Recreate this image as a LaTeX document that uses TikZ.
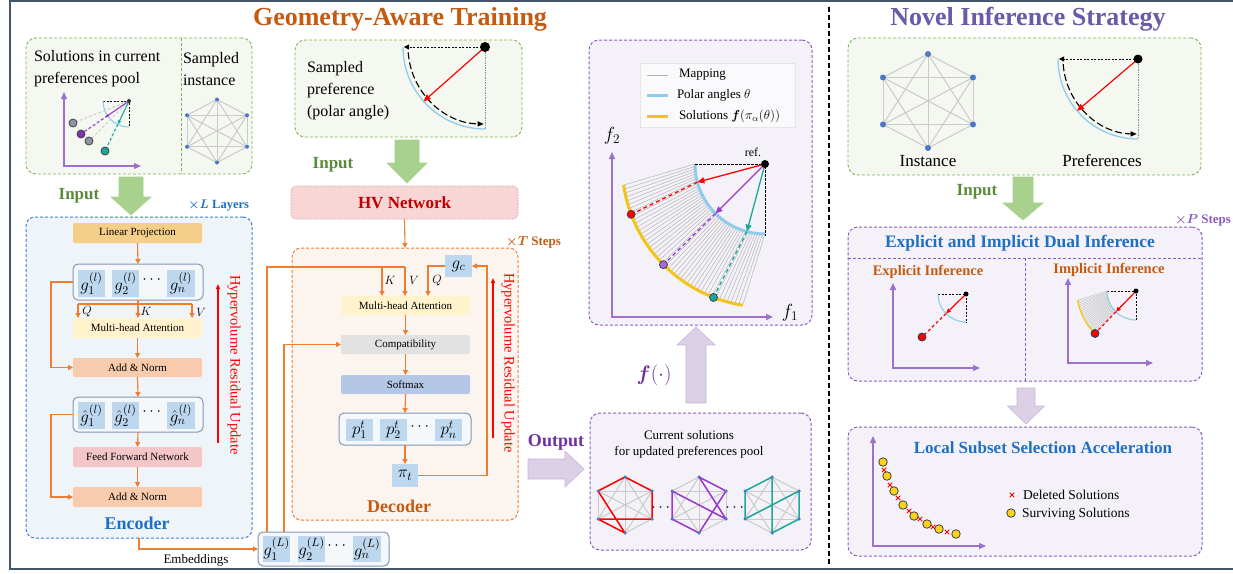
\RequirePackage{fix-cm}
\documentclass[tikz,border=0pt]{standalone}
\usepackage{amsmath,bm}
\usepackage{fontspec}
\setmainfont{Liberation Serif}
\usetikzlibrary{arrows.meta,calc,shapes.misc}

\definecolor{ttlO}{HTML}{C55A11}
\definecolor{ttlP}{HTML}{6A5AA8}
\definecolor{grnB}{HTML}{7FB552}
\definecolor{grnT}{HTML}{5B8A3A}
\definecolor{grnA}{HTML}{A9D18E}
\definecolor{grnF}{HTML}{F5F8F1}
\definecolor{bluT}{HTML}{1F6FC5}
\definecolor{encB}{HTML}{3B82D6}
\definecolor{encF}{HTML}{EFF4F9}
\definecolor{orgL}{HTML}{ED7D31}
\definecolor{decF}{HTML}{FCF4EE}
\definecolor{cellC}{HTML}{BDD7EE}
\definecolor{rowB}{HTML}{8497B0}
\definecolor{lpC}{HTML}{F4CF8A}
\definecolor{mhaC}{HTML}{FFF2CC}
\definecolor{anC}{HTML}{F8CBAD}
\definecolor{ffnC}{HTML}{F4C6C8}
\definecolor{cmpC}{HTML}{E2E2E2}
\definecolor{smxC}{HTML}{B4C7E7}
\definecolor{hvF}{HTML}{F8D6D6}
\definecolor{hvB}{HTML}{D99A9A}
\definecolor{hvT}{HTML}{C00000}
\definecolor{purB}{HTML}{8C5CC0}
\definecolor{purF}{HTML}{F4F2F8}
\definecolor{purA}{HTML}{DCD0E6}
\definecolor{purAB}{HTML}{C8B6DA}
\definecolor{purT}{HTML}{7030A0}
\definecolor{axC}{HTML}{9C70CC}
\definecolor{arcC}{HTML}{8FCBEA}
\definecolor{yelC}{HTML}{F2C618}
\definecolor{tealC}{HTML}{1BA89C}
\definecolor{vioC}{HTML}{9A38D0}
\definecolor{vioF}{HTML}{A86BD8}
\definecolor{nodC}{HTML}{4A78C8}
\definecolor{edgC}{HTML}{CACACA}
\definecolor{frmC}{HTML}{44546A}
\definecolor{grayD}{HTML}{8A8F9C}
\definecolor{dotG}{HTML}{8E95A5}
\definecolor{solY}{HTML}{FFD21A}

\newcommand\fsz[2]{\fontsize{#1}{#2}\selectfont}
\newcommand\mkbox[7]{\node[#6, minimum width={(#4)-(#2)}, minimum height={(#5)-(#3)}] (#1) at ({((#2)+(#4))/2},{((#3)+(#5))/2}) {#7};}
\newcommand\vblk[8]{\filldraw[fill=#7, draw=#8, line width=0.6pt] ({#1-#5/2},#2) -- ({#1-#5/2},#4) -- ({#1-#6/2},#4) -- (#1,#3) -- ({#1+#6/2},#4) -- ({#1+#5/2},#4) -- ({#1+#5/2},#2) -- cycle;}
\newcommand\hblk[8]{\filldraw[fill=#7, draw=#8, line width=0.6pt] (#2,{#1-#5/2}) -- (#4,{#1-#5/2}) -- (#4,{#1-#6/2}) -- (#3,#1) -- (#4,{#1+#6/2}) -- (#4,{#1+#5/2}) -- (#2,{#1+#5/2}) -- cycle;}
\newcommand\kgraph[5]{%
 \coordinate (#1-1) at (#2,{#3-#5});
 \coordinate (#1-2) at ({#2+#4},{#3-#5/2});
 \coordinate (#1-3) at ({#2+#4},{#3+#5/2});
 \coordinate (#1-4) at (#2,{#3+#5});
 \coordinate (#1-5) at ({#2-#4},{#3+#5/2});
 \coordinate (#1-6) at ({#2-#4},{#3-#5/2});
 \foreach \i/\j in {1/2,1/3,1/4,1/5,1/6,2/3,2/4,2/5,2/6,3/4,3/5,3/6,4/5,4/6,5/6}{\draw[kedge] (#1-\i) -- (#1-\j);}}
\newcommand\kdots[2]{\foreach \i in {1,...,6}{\node[kdot, minimum size=#2] (#1-d\i) at (#1-\i) {};}}
% prefix, x, y, r, inner r, red angle, dot size
\newcommand\prefdiag[7]{%
 \coordinate (#1R) at (#2,#3);
 \coordinate (#1L) at ({#2-#4},#3);
 \coordinate (#1D) at (#2,{#3+#4});
 \draw[arcC, line width=1.3pt] (#1L) arc[start angle=180,end angle=90,radius=#4];
 \draw[grayD, dash pattern=on 1.5pt off 1pt, line width=0.9pt] (#1R) -- (#1D);
 \draw[black, dash pattern=on 2pt off 1.5pt, line width=0.8pt, -{Triangle[length=5pt,width=5pt]}] (#1R) -- ([xshift=1pt]#1L);
 \draw[black, dash pattern=on 7pt off 3pt, line width=1.1pt, -{Triangle[length=6pt,width=5pt]}] ($(#1R)+({#5*cos(176)},{#5*sin(176)})$) arc[start angle=176,end angle=91,radius=#5];
 \coordinate (#1A) at ($(#1R)+({#4*cos(#6)},{#4*sin(#6)})$);
 \draw[red, line width=1.2pt, -{Triangle[length=7pt,width=6pt]}] (#1R) -- (#1A);
 \node[refdot, minimum size=#7] (#1dot) at (#1R) {};}

\begin{document}
\begin{tikzpicture}[x=1pt,y=-1pt,
  every node/.style={inner sep=0pt, outer sep=0pt},
  oline/.style={draw=orgL, line width=1.1pt},
  oarr/.style={oline, -{Triangle[length=5pt,width=5pt]}},
  blk/.style={rounded corners=2pt, font=\fsz{11}{13}},
  cellbox/.style={fill=cellC, font=\fsz{17}{19}},
  rowst/.style={draw=rowB, line width=1pt, rounded corners=5pt, fill=white!40!encF},
  gbox/.style={draw=grnB, fill=grnF, line width=0.9pt, dash pattern=on 3pt off 2pt, rounded corners=10pt},
  pbox/.style={draw=purB, fill=purF, line width=1pt, dash pattern=on 3pt off 2pt, rounded corners=10pt},
  encst/.style={draw=encB, fill=encF, line width=1pt, dash pattern=on 3pt off 2pt, rounded corners=9pt},
  decst/.style={draw=orgL, fill=decF, line width=1pt, dash pattern=on 3pt off 2pt, rounded corners=9pt},
  hvst/.style={draw=hvB, fill=hvF, line width=0.8pt, dash pattern=on 1.5pt off 1.5pt, rounded corners=5pt, text=hvT, font=\fsz{17}{20}\bfseries},
  axline/.style={draw=axC, line width=1.3pt, {Triangle[length=7pt,width=6pt]}-{Triangle[length=7pt,width=6pt]}},
  kedge/.style={draw=edgC, line width=1pt},
  kdot/.style={circle, fill=nodC, minimum size=4pt},
  refdot/.style={circle, fill=black, minimum size=6pt},
  soldot/.style={circle, draw=black!75, line width=0.8pt, minimum size=8pt},
  mapl/.style={draw=gray!55, line width=0.55pt},
  txt/.style={font=\fsz{16}{22}, align=left},
  inp/.style={font=\fsz{17}{20}\bfseries, text=grnT},
  rlbl/.style={rotate=-90, text=red, font=\fsz{14.5}{17}},
  redup/.style={draw=red, line width=1.3pt, -{Triangle[length=5pt,width=4pt]}},
  xmark/.style={cross out, draw=red, line width=0.8pt, minimum size=4.5pt},
  dotsn/.style={font=\fsz{16}{18}},
  qkv/.style={font=\fsz{12}{14}},
]
\useasboundingbox (0,0) rectangle (1233,573);
\fill[white] (0,0) rectangle (1233,573);
\draw[frmC, line width=1.6pt] (1240,1) -- (10,1) -- (10,569) -- (1240,569);
\draw[black, line width=1.4pt, dash pattern=on 5pt off 3pt] (829,7) -- (829,566);

% titles
\node[font=\fsz{26}{30}\bfseries, text=ttlO] (t1) at (400,19) {Geometry-Aware Training};
\node[font=\fsz{26}{30}\bfseries, text=ttlP] (t2) at (1028,19) {Novel Inference Strategy};

% ===== top-left box
\mkbox{solbox}{26}{38}{252}{174}{gbox}{}
\draw[grnB, line width=0.9pt, dash pattern=on 3pt off 2pt] (181,38) -- (181,174);
\node[txt, anchor=west] (soltxt) at (34,69) {Solutions in current\\preferences pool};
\node[txt, anchor=west] (samtxt) at (183,69) {Sampled\\instance};
\draw[axline] (64,92) -- (64,166) -- (141,166);
\coordinate (M0) at (129,101);
\draw[black, dash pattern=on 2pt off 1.5pt, line width=0.7pt] (103,101) -- (M0) -- (129,126);
\draw[arcC, line width=1.1pt] (103,101) arc[start angle=180,end angle=90,radius=26];
\coordinate (Mg1) at (73,123); \coordinate (Mv) at (81,134); \coordinate (Mg2) at (89,141); \coordinate (Mt) at (105,151);
\coordinate (MvA) at (107.6,115.7); \coordinate (MtA) at (117.8,124.4);
\draw[gray!40, line width=1pt, dash pattern=on 3pt off 2pt] (M0) -- (Mg1);
\draw[gray!40, line width=1pt, dash pattern=on 3pt off 2pt] (M0) -- (Mg2);
\draw[vioC, line width=1.1pt] (M0) -- (MvA);
\draw[vioC, line width=1.1pt, dash pattern=on 3pt off 2pt] (MvA) -- (Mv);
\node[circle, fill=vioC, minimum size=3pt] (MvAd) at (MvA) {};
\draw[tealC, line width=1.1pt, -{Triangle[length=4pt,width=3.5pt]}] (M0) -- (MtA);
\draw[tealC, line width=1.1pt, dash pattern=on 3pt off 2pt] (MtA) -- (Mt);
\node[soldot, fill=dotG] (Mg1d) at (Mg1) {};
\node[soldot, fill=vioC!85!black] (Mvd) at (Mv) {};
\node[soldot, fill=dotG] (Mg2d) at (Mg2) {};
\node[soldot, fill=tealC] (Mtd) at (Mt) {};
\node[circle, fill=black!80, minimum size=4pt] (M0d) at (M0) {};
\kgraph{sa}{217}{131}{30}{31.5}
\kdots{sa}{4pt}

% ===== encoder
\node[inp] (inp1) at (79,196) {Input};
\vblk{131}{177}{215}{197}{24}{40}{grnA}{grnA}
\node[anchor=east, font=\fsz{12.5}{14}\bfseries, text=bluT] (llay) at (249,206) {$\bm{\times L}$ Layers};
\mkbox{enc}{26}{217}{252}{538}{encst}{}
\mkbox{lp}{73}{223}{202}{243}{blk,fill=lpC}{Linear Projection}
\mkbox{grow}{73}{264}{203}{300}{rowst}{}
\mkbox{g1}{78}{270}{105}{297}{cellbox}{$g_1^{(l)}$}
\mkbox{g2}{112}{270}{139}{297}{cellbox}{$g_2^{(l)}$}
\mkbox{gn}{167}{270}{195}{297}{cellbox}{$g_n^{(l)}$}
\node[dotsn] (gdots) at (153,280) {$\cdots$};
\mkbox{mha}{73}{318}{202}{338}{blk,fill=mhaC}{Multi-head Attention}
\mkbox{an1}{73}{358}{202}{377}{blk,fill=anC}{Add \& Norm}
\mkbox{hrow}{73}{397}{203}{432}{rowst}{}
\mkbox{h1}{78}{402}{105}{429}{cellbox}{$\hat g_1^{(l)}$}
\mkbox{h2}{112}{402}{139}{429}{cellbox}{$\hat g_2^{(l)}$}
\mkbox{hn}{167}{402}{195}{429}{cellbox}{$\hat g_n^{(l)}$}
\node[dotsn] (hdots) at (153,412) {$\cdots$};
\mkbox{ffn}{73}{447}{202}{467}{blk,fill=ffnC}{Feed Forward Network}
\mkbox{an2}{73}{487}{202}{507}{blk,fill=anC}{Add \& Norm}
\draw[oarr] (lp.south) -- (grow.north);
\coordinate (qL) at (78,304); \coordinate (qR) at (192,304);
\draw[oline] (grow.south) -- (grow.south |- qL);
\draw[oline] (qL) -- (qR);
\draw[oarr] (qL) -- (qL |- mha.north);
\draw[oarr] (grow.south |- qL) -- (grow.south |- mha.north);
\draw[oarr] (qR) -- (qR |- mha.north);
\node[qkv] (lq) at (87,312) {$Q$};
\node[qkv] (lk) at (146,311) {$K$};
\node[qkv] (lv) at (201,312) {$V$};
\draw[oarr] (mha.south) -- (an1.north);
\draw[oarr] (an1.south) -- (hrow.north);
\draw[oarr] (hrow.south) -- (ffn.north);
\draw[oarr] (ffn.south) -- (an2.north);
\draw[oarr] (grow.west) -- ++(-22,0) |- (an1.west);
\draw[oarr] (hrow.west) -- ++(-22,0) |- (an2.west);
\coordinate (er1) at (218,443); \coordinate (er2) at (218,284);
\draw[redup] (er1) -- (er2);
\node[rlbl] (ehv) at (234,365) {Hypervolume Residual Update};
\node[font=\fsz{18}{20}\bfseries, text=bluT] (enclbl) at (137,523) {Encoder};

% embeddings
\mkbox{gL}{258}{532}{389}{566}{rowst}{}
\mkbox{gL1}{263}{536}{290}{562}{cellbox}{$g_1^{(L)}$}
\mkbox{gL2}{298}{536}{325}{562}{cellbox}{$g_2^{(L)}$}
\mkbox{gLn}{353}{536}{381}{562}{cellbox}{$g_n^{(L)}$}
\node[dotsn] (gLdots) at (338,546) {$\cdots$};
\draw[oarr] (enc.south) |- (gL.west);
\node[font=\fsz{13}{15}] (emb) at (196,560) {Embeddings};

% ===== middle column
\mkbox{spbox}{295}{40}{522}{137}{gbox}{}
\node[txt, anchor=west] (sptxt) at (307,91) {Sampled\\preference\\(polar angle)};
\prefdiag{sp}{485}{47}{82}{77}{138.5}{10pt}
\node[inp] (inp2) at (333,165) {Input};
\vblk{407}{140}{183}{163}{24}{40}{grnA}{grnA}
\mkbox{hv}{291}{186}{518}{219}{hvst}{HV Network}
\node[anchor=east, font=\fsz{13}{15}\bfseries, text=ttlO] (tsteps) at (561,242) {$\bm{\times T}$ Steps};
\mkbox{dec}{292}{248}{518}{520}{decst}{}
\draw[oarr] (hv.south) -- (dec.north);
\mkbox{gc}{445}{255}{472}{277}{cellbox}{$g_c$}
\mkbox{dmha}{341}{296}{470}{315}{blk,fill=mhaC}{Multi-head Attention}
\mkbox{cmp}{341}{335}{470}{354}{blk,fill=cmpC}{Compatibility}
\mkbox{smx}{341}{375}{470}{394}{blk,fill=smxC}{Softmax}
\mkbox{prow}{339}{413}{471}{445}{rowst}{}
\mkbox{p1}{346}{419}{373}{441}{cellbox}{$p_1^t$}
\mkbox{p2}{380}{419}{407}{441}{cellbox}{$p_2^t$}
\mkbox{pn}{435}{419}{462}{441}{cellbox}{$p_n^t$}
\node[dotsn] (pdots) at (421,427) {$\cdots$};
\mkbox{pit}{392}{464}{418}{487}{cellbox}{$\pi_t$}
\draw[oarr] (dmha.south) -- (cmp.north);
\draw[oarr] (cmp.south) -- (smx.north);
\draw[oarr] (smx.south) -- (prow.north);
\draw[oarr] (prow.south) -- (pit.north);
\coordinate (kvL) at (267,267); \coordinate (kT) at (382,267); \coordinate (vT) at (405,267);
\coordinate (qT) at (428,267); \coordinate (cL) at (284,0); \coordinate (lpR) at (487,0);
\draw[oline] (gL.north -| kvL) -- (kvL) -- (vT);
\draw[oarr] (kT) -- (kT |- dmha.north);
\draw[oarr] (vT) -- (vT |- dmha.north);
\draw[oarr] (gc.west) -| (qT |- dmha.north);
\draw[oarr] (gL.north -| cL) |- (cmp.west);
\draw[oarr] (pit.east) -| (lpR |- gc.east) -- (gc.east);
\node[qkv] (dk) at (390,280) {$K$};
\node[qkv] (dv) at (414,280) {$V$};
\node[qkv] (dq) at (437,281) {$Q$};
\coordinate (dr1) at (493,438); \coordinate (dr2) at (493,278);
\draw[redup] (dr1) -- (dr2);
\node[rlbl] (dhv) at (508,363) {Hypervolume Residual Update};
\node[font=\fsz{18}{20}\bfseries, text=ttlO] (declbl) at (399,506) {Decoder};

% output arrow
\node[font=\fsz{18}{20}\bfseries, text=purT] (outlbl) at (556,442) {Output};
\hblk{469}{528}{584}{565}{20}{36}{purA}{purAB}

% ===== pareto box
\mkbox{par}{589}{40}{812}{325}{pbox}{}
\mkbox{leg}{640}{63}{795}{127}{draw=gray!20, fill=white!55!purF, line width=0.6pt}{}
\draw[gray!60, line width=1pt] (647,75) -- (668,75);
\draw[arcC, line width=3pt] (647,95) -- (668,95);
\draw[yelC, line width=3pt] (647,116) -- (668,116);
\node[anchor=west, font=\fsz{13}{15}] (lg1) at (679,75) {Mapping};
\node[anchor=west, font=\fsz{13}{15}] (lg2) at (677,95) {Polar angles $\theta$};
\node[anchor=west, font=\fsz{13}{15}] (lg3) at (679,116) {Solutions $\bm{f}(\pi_\alpha(\theta))$};
\draw[axline] (612,152) -- (612,317) -- (773,317);
\node[font=\fsz{19}{21}] (f2) at (612,136) {$f_2$};
\node[font=\fsz{19}{21}] (f1) at (790,313) {$f_1$};
\coordinate (PR) at (765,164);
\foreach \k in {0,...,45} {
  \pgfmathsetmacro\bb{180-2*\k}
  \pgfmathsetmacro\yy{171.5-(180-\bb)*0.8056}
  \draw[mapl] ($(PR)+({70*cos(\bb)},{70*sin(\bb)})$) -- ($(PR)+({143*cos(\yy)},{143*sin(\yy)})$);
}
\draw[arcC, line width=3pt] ($(PR)+(-70,0)$) arc[start angle=180, end angle=90, radius=70];
\draw[yelC, line width=3pt] ($(PR)+({143*cos(171.5)},{143*sin(171.5)})$) arc[start angle=171.5, end angle=99, radius=143];
\draw[black, dash pattern=on 2.5pt off 1.5pt, line width=0.9pt] ($(PR)+(-70,0)$) -- (PR) -- ($(PR)+(0,72)$);
\foreach \nm/\cl/\ba/\ya in {Pr/red/165/159.4, Pv/vioC/135/135.25, Pt/tealC/105/111.1} {
  \coordinate (\nm A) at ($(PR)+({70*cos(\ba)},{70*sin(\ba)})$);
  \coordinate (\nm D) at ($(PR)+({143*cos(\ya)},{143*sin(\ya)})$);
  \draw[\cl, line width=1.3pt, -{Triangle[length=7pt,width=6pt]}] (PR) -- (\nm A);
  \draw[\cl, line width=1.3pt, dash pattern=on 4pt off 3pt] (\nm A) -- (\nm D);
}
\node[soldot, fill=red] (Prd) at (PrD) {};
\node[soldot, fill=vioF] (Pvd) at (PvD) {};
\node[soldot, fill=tealC] (Ptd) at (PtD) {};
\node[refdot, minimum size=8pt] (PRd) at (PR) {};
\node[font=\fsz{12}{14}] (reflbl) at (753,152) {ref.};

% f(.) arrow
\vblk{696}{403}{327}{345}{20}{38}{purA}{purAB}
\node[font=\fsz{21}{23}, text=purT] (flbl) at (654,375) {$\bm{f}(\cdot)$};

% current solutions
\mkbox{cs}{590}{413}{811}{550}{pbox}{}
\node[font=\fsz{13}{16}, align=center] (cstxt) at (689,444) {Current solutions\\for updated preferences pool};
\kgraph{s1}{625}{505}{27}{28}
\kgraph{s2}{699}{505}{27}{28}
\kgraph{s3}{772}{505}{27}{28}
\draw[red, line width=1.5pt, line join=round] (s1-6) -- (s1-1) -- (s1-2) -- (s1-3) -- (s1-5) -- (s1-4) -- cycle;
\draw[vioC, line width=1.5pt, line join=round] (s2-6) -- (s2-5) -- (s2-4) -- (s2-2) -- (s2-1) -- (s2-3) -- cycle;
\draw[tealC, line width=1.5pt, line join=round] (s3-6) -- (s3-1) -- (s3-4) -- (s3-3) -- (s3-2) -- (s3-5) -- cycle;
\kdots{s1}{3.5pt}\kdots{s2}{3.5pt}\kdots{s3}{3.5pt}
\node[font=\fsz{16}{18}\bfseries] (cd1) at (662,508) {$\cdots$};
\node[font=\fsz{16}{18}\bfseries] (cd2) at (736,508) {$\cdots$};

% ===== right panel
\mkbox{nb}{848}{38}{1201}{175}{gbox}{}
\kgraph{ins}{928}{101}{45}{47}
\kdots{ins}{6pt}
\node[font=\fsz{17}{19}] (instlbl) at (928,161) {Instance};
\node[font=\fsz{17}{19}] (preflbl) at (1102,161) {Preferences};
\prefdiag{np}{1138}{59}{80}{75}{139.6}{9pt}
\node[inp] (inp3) at (977,192) {Input};
\vblk{1023}{177}{220}{203}{20}{40}{grnA}{grnA}
\node[anchor=east, font=\fsz{13}{15}\bfseries, text=purB] (psteps) at (1231,220) {$\bm{\times P}$ Steps};

\mkbox{dual}{848}{227}{1202}{381}{pbox}{}
\draw[purB, line width=1pt, dash pattern=on 3pt off 2pt] (848,258) -- (1202,258);
\draw[purB, line width=1pt, dash pattern=on 3pt off 2pt] (1025,258) -- (1025,381);
\node[font=\fsz{17.5}{20}\bfseries, text=bluT] (dualt) at (1020,243) {Explicit and Implicit Dual Inference};
\node[font=\fsz{14.5}{17}\bfseries, text=ttlO] (expt) at (928,272) {Explicit Inference};
\node[font=\fsz{14.5}{17}\bfseries, text=ttlO] (impt) at (1109,270) {Implicit Inference};
% explicit
\draw[axline] (893,283) -- (893,368) -- (980,368);
\coordinate (ER) at (966,294);
\draw[black, dash pattern=on 2pt off 1.5pt, line width=0.8pt] (938,294) -- (ER) -- (966,323);
\draw[arcC, line width=1.1pt] (938,294) arc[start angle=180,end angle=90,radius=28];
\coordinate (EA) at ($(ER)+({28*cos(135.7)},{28*sin(135.7)})$);
\coordinate (ED) at (922,337);
\draw[red, line width=1.2pt, -{Triangle[length=5pt,width=4pt]}] (ER) -- (EA);
\draw[red, line width=1.2pt, dash pattern=on 3pt off 2.5pt] (EA) -- (ED);
\node[soldot, fill=red, draw=nodC!50!black] (EDd) at (ED) {};
\node[refdot, minimum size=5pt] (ERd) at (ER) {};
% implicit
\draw[axline] (1068,278) -- (1068,363) -- (1153,363);
\coordinate (IR) at (1136,291);
\foreach \k in {0,...,23} {
  \pgfmathsetmacro\bb{180-2*\k}
  \pgfmathsetmacro\yy{171-(180-\bb)*0.804}
  \draw[draw=gray!45, line width=0.5pt] ($(IR)+({29*cos(\bb)},{29*sin(\bb)})$) -- ($(IR)+({59*cos(\yy)},{59*sin(\yy)})$);
}
\draw[black, dash pattern=on 2pt off 1.5pt, line width=0.8pt] (1107,291) -- (IR) -- (1136,320);
\draw[arcC, line width=1.1pt] (1107,291) arc[start angle=180,end angle=90,radius=29];
\draw[yelC, line width=1.3pt] ($(IR)+({59*cos(171)},{59*sin(171)})$) arc[start angle=171, end angle=134, radius=59];
\coordinate (IA) at ($(IR)+({29*cos(134)},{29*sin(134)})$);
\coordinate (ID) at ($(IR)+({59*cos(134)},{59*sin(134)})$);
\draw[red, line width=1.2pt, -{Triangle[length=5pt,width=4pt]}] (IR) -- (IA);
\draw[red, line width=1.2pt, dash pattern=on 3pt off 2.5pt] (IA) -- (ID);
\node[soldot, fill=red, draw=nodC!50!black] (IDd) at (ID) {};
\node[refdot, minimum size=5pt] (IRd) at (IR) {};

\vblk{1026}{388}{424}{406}{18}{37}{purA}{purAB}
\mkbox{lss}{848}{427}{1202}{556}{pbox}{}
\node[font=\fsz{17}{20}\bfseries, text=bluT] (lsst) at (1043,448) {Local Subset Selection Acceleration};
\draw[axline] (873,436) -- (873,546) -- (986,546);
\foreach \px/\py [count=\c] in {884/470,890/485,898/498,909/511,920/519,933/527,947/532} {
  \node[xmark] (x\c) at (\px,\py) {};
}
\foreach \px/\py [count=\c] in {883/462,887/476,894/491,903/505,914/516,927/524,939/529,956/534} {
  \node[soldot, fill=solY, minimum size=8.5pt] (y\c) at (\px,\py) {};
}
\node[xmark] (lgx) at (1012,495) {};
\node[anchor=west, font=\fsz{13.5}{16}] (lgxt) at (1023,495) {Deleted Solutions};
\node[soldot, fill=solY, minimum size=8.5pt] (lgy) at (1011,513) {};
\node[anchor=west, font=\fsz{13.5}{16}] (lgyt) at (1022,514) {Surviving Solutions};
\end{tikzpicture}
\end{document}
